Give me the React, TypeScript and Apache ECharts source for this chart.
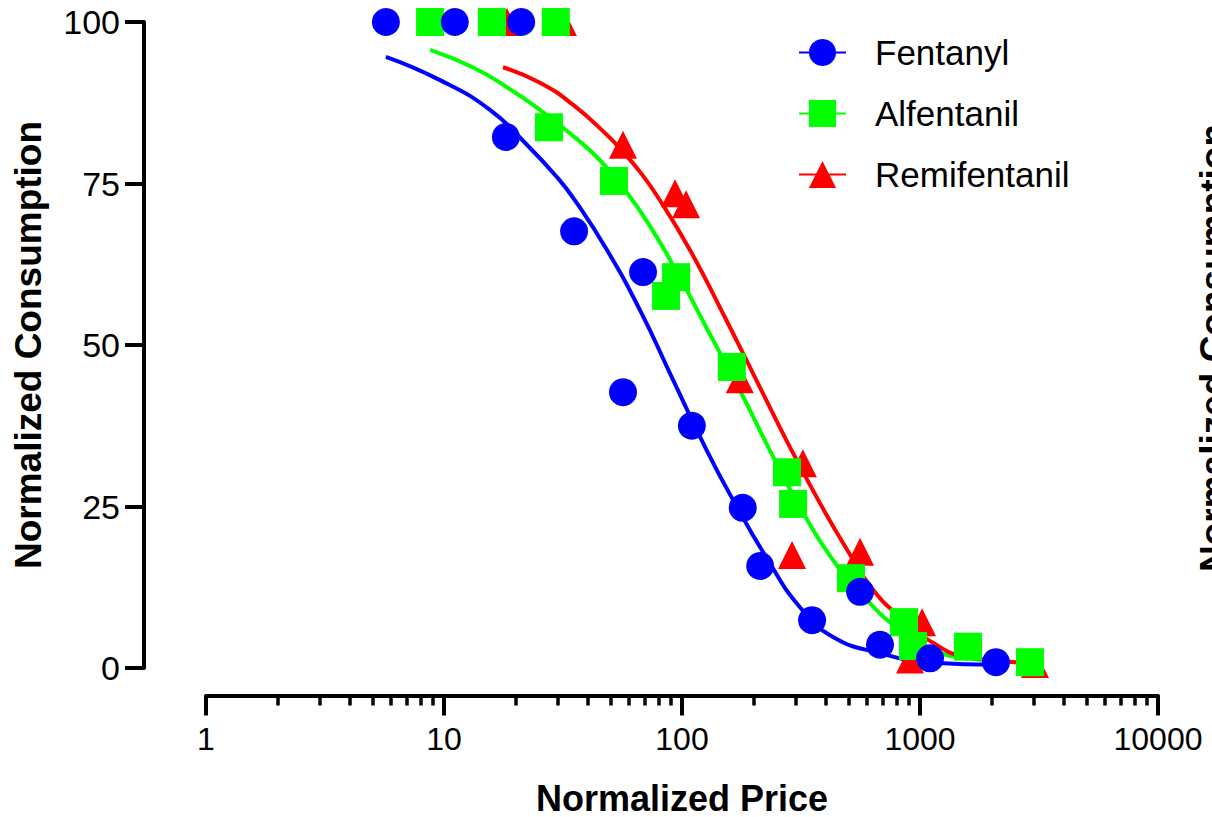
import React, { useEffect, useRef } from "react";
import * as echarts from "echarts";

const seriesNames = ["Fentanyl", "Alfentanil", "Remifentanil"];
const seriesColors = ["#0000FF", "#00FF00", "#FF0000"];

// x-axis tick values (log scale)
const xTickValues = [1, 10, 100, 1000, 10000];
const xMinorTickValues = [
  2, 3, 4, 5, 6, 7, 8, 9,
  20, 30, 40, 50, 60, 70, 80, 90,
  200, 300, 400, 500, 600, 700, 800, 900,
  2000, 3000, 4000, 5000, 6000, 7000, 8000, 9000,
];

// Observed data points
const fentanylPrice = [5.7, 11.1, 21.1, 18.2, 35.2, 68.6, 56.5, 110, 180, 213, 352, 560, 679, 1102, 2085];
const fentanylCons = [100, 100, 100, 82.2, 67.6, 61.3, 42.7, 37.5, 24.8, 15.8, 7.4, 11.8, 3.6, 1.5, 0.9];

const alfentanilPrice = [8.74, 15.9, 29.5, 27.6, 51.8, 94.4, 85.7, 162, 276, 293, 513, 857, 935, 1591, 2899];
const alfentanilCons = [100, 100, 100, 83.7, 75.4, 60.5, 57.6, 46.6, 30.3, 25.4, 13.9, 7.1, 3.4, 3.3, 0.9];

const remifentanilPrice = [18.4, 31.6, 56.5, 93.5, 104, 175, 322, 290, 560, 1020, 908, 3042];
const remifentanilCons = [100, 100, 81.0, 73.5, 71.8, 44.7, 31.7, 17.5, 18.0, 7.1, 1.3, 0.6];

// Fitted curves
const fentanylFitPrice = [5.7, 9.62, 15.6, 22.3, 29.8, 35.5, 48.4, 66.6, 91.7, 127, 164, 228, 313, 431, 679, 1134, 2085];
const fentanylFitCons = [94.6, 91.0, 86.4, 81.0, 76.0, 72.4, 64.7, 55.4, 44.6, 33.7, 26.0, 16.9, 9.4, 4.8, 2.3, 0.8, 0.5];

const alfentanilFitPrice = [8.74, 13.2, 18.4, 25.3, 34.8, 45.2, 57.6, 73.4, 98.1, 127, 175, 234, 313, 431, 599, 824, 1134, 1576, 2899];
const alfentanilFitCons = [95.7, 93.0, 89.9, 86.4, 82.4, 78.6, 74.0, 68.4, 60.4, 52.6, 43.0, 33.7, 24.9, 16.7, 10.5, 5.9, 2.8, 1.5, 0.8];

const remifentanilFitPrice = [17.7, 25.3, 34.8, 48.4, 56.5, 66.6, 78.5, 108, 149, 207, 284, 380, 494, 635, 824, 1134, 1576, 3042];
const remifentanilFitCons = [93.0, 90.6, 87.2, 82.5, 79.9, 76.8, 73.1, 64.7, 54.8, 44.3, 34.2, 25.5, 18.3, 12.1, 7.9, 3.9, 1.7, 0.8];

const FONT = '"Liberation Sans", Arial, sans-serif';

const zip = (xs: number[], ys: number[]) => xs.map((x, i) => [x, ys[i]]);

export default function App() {
  const ref = useRef<HTMLDivElement>(null);

  useEffect(() => {
    if (!ref.current) return;
    const chart = echarts.init(ref.current, undefined, { renderer: "svg" });

    const fits = [
      zip(fentanylFitPrice, fentanylFitCons),
      zip(alfentanilFitPrice, alfentanilFitCons),
      zip(remifentanilFitPrice, remifentanilFitCons),
    ];
    const pts = [
      zip(fentanylPrice, fentanylCons),
      zip(alfentanilPrice, alfentanilCons),
      zip(remifentanilPrice, remifentanilCons),
    ];
    const symbols = ["circle", "rect", "triangle"];

    const lineSeries = seriesNames.map((name, i) => ({
      name,
      type: "line",
      data: fits[i],
      smooth: true,
      symbol: symbols[i],
      symbolSize: 28,
      showSymbol: false,
      lineStyle: { width: 4, color: seriesColors[i] },
      itemStyle: { color: seriesColors[i] },
      emphasis: { disabled: true },
      z: 2,
    }));

    const scatterOrder = [2, 1, 0];
    const scatterSeries = scatterOrder.map((i) => ({
      name: seriesNames[i],
      type: "scatter",
      data: pts[i],
      symbol: symbols[i],
      symbolSize: 28,
      itemStyle: { color: seriesColors[i], opacity: 1 },
      emphasis: { disabled: true },
      z: 3,
    }));

    chart.setOption({
      animation: false,
      backgroundColor: "#ffffff",
      grid: {
        left: 206,
        right: 54,
        top: 22,
        bottom: 149,
        containLabel: false,
        outerBoundsMode: "none",
      },
      legend: {
        data: seriesNames,
        orient: "vertical",
        left: 793,
        top: 30,
        itemWidth: 47,
        itemHeight: 34,
        itemGap: 26,
        selectedMode: false,
        textStyle: {
          fontSize: 35,
          fontFamily: FONT,
          color: "#000",
          lineHeight: 34,
          padding: [0, 0, 0, 24],
        },
      },
      xAxis: [
        {
          type: "log",
          logBase: 10,
          min: 1,
          max: 10000,
          position: "bottom",
          offset: 27.5,
          axisLine: { show: true, onZero: false, lineStyle: { color: "#000", width: 4 } },
          axisTick: {
            show: true,
            inside: false,
            length: 20,
            customValues: xTickValues,
            lineStyle: { color: "#000", width: 4 },
          },
          minorTick: { show: false },
          axisLabel: {
            customValues: xTickValues,
            formatter: (v: number) => String(Math.round(v)),
            margin: 27,
            fontSize: 32,
            fontFamily: FONT,
            color: "#000",
          },
          splitLine: { show: false },
          name: "Normalized Price",
          nameLocation: "middle",
          nameGap: 88,
          nameTextStyle: {
            fontSize: 36,
            lineHeight: 30,
            fontWeight: "bold",
            fontFamily: FONT,
            color: "#000",
          },
        },
        {
          type: "log",
          logBase: 10,
          min: 1,
          max: 10000,
          position: "bottom",
          offset: 27.5,
          axisLine: { show: false, onZero: false },
          axisTick: {
            show: true,
            inside: false,
            length: 10,
            customValues: xMinorTickValues,
            lineStyle: { color: "#000", width: 3.5 },
          },
          axisLabel: { show: false },
          splitLine: { show: false },
        },
      ],
      yAxis: {
        type: "value",
        min: 0,
        max: 100,
        interval: 25,
        position: "left",
        offset: 62,
        axisLine: { show: true, onZero: false, lineStyle: { color: "#000", width: 4 } },
        axisTick: { show: true, inside: false, length: 19, lineStyle: { color: "#000", width: 4 } },
        axisLabel: { margin: 24, fontSize: 34, fontFamily: FONT, color: "#000" },
        splitLine: { show: false },
        name: "Normalized Consumption",
        nameLocation: "middle",
        nameGap: 97,
        nameTextStyle: { fontSize: 37, fontWeight: "bold", fontFamily: FONT, color: "#000" },
      },
      graphic: [
        {
          type: "text",
          x: 1213,
          y: 348,
          rotation: Math.PI / 2,
          style: {
            text: "Normalized Consumption",
            font: `bold 37px ${FONT}`,
            fill: "#000",
            align: "center",
            verticalAlign: "middle",
          },
        },
      ],
      series: [...lineSeries, ...scatterSeries],
    });

    return () => chart.dispose();
  }, []);

  return (
    <div
      ref={ref}
      style={{ position: "absolute", left: 0, top: 0, width: 1212, height: 817, background: "#fff" }}
    />
  );
}
